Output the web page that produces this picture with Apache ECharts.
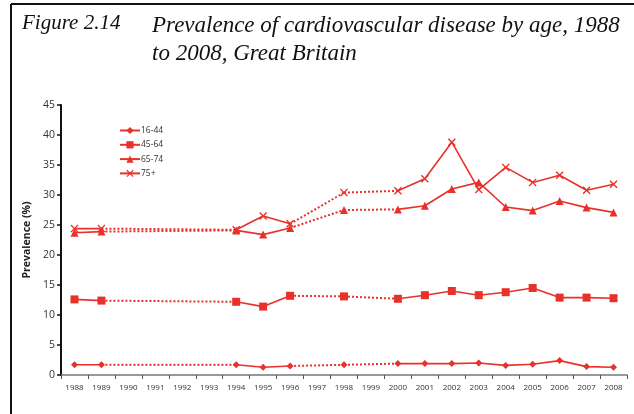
<!DOCTYPE html>
<html><head><meta charset="utf-8">
<script src="https://cdn.jsdelivr.net/npm/echarts@6/dist/echarts.min.js"></script>
<style>html,body{margin:0;padding:0;background:#fff}#c{width:634px;height:414px}</style>
</head><body><div id="c"></div>
<script>
const years = ['1988','1989','1990','1991','1992','1993','1994','1995','1996','1997','1998','1999','2000','2001','2002','2003','2004','2005','2006','2007','2008'];
const seriesNames = ['16-44','45-64','65-74','75+'];
const age16_44 = [1.7,1.7,null,null,null,null,1.7,1.3,1.5,null,1.7,null,1.9,1.9,1.9,2.0,1.6,1.8,2.4,1.4,1.3];
const age45_64 = [12.6,12.4,null,null,null,null,12.2,11.4,13.2,null,13.1,null,12.7,13.3,14.0,13.3,13.8,14.5,12.9,12.9,12.8];
const age65_74 = [23.7,23.9,null,null,null,null,24.1,23.4,24.5,null,27.5,null,27.6,28.2,31.0,32.1,28.0,27.4,29.0,27.9,27.1];
const age75plus = [24.4,24.4,null,null,null,null,24.2,26.5,25.2,null,30.4,null,30.7,32.7,38.8,30.9,34.6,32.1,33.3,30.8,31.8];
const yTicks = [0,5,10,15,20,25,30,35,40,45];

const RED = '#e8312a';
const xPath = 'path://M0,1.2L1.2,0L5,3.8L8.8,0L10,1.2L6.2,5L10,8.8L8.8,10L5,6.2L1.2,10L0,8.8L3.8,5Z';
const symbols = ['diamond','rect','triangle',xPath];
const sizes = [7,8,8,8];
const allData = [age16_44, age45_64, age65_74, age75plus];

const series = [];
allData.forEach((d, k) => {
  series.push({
    name: seriesNames[k], type: 'line', data: d, connectNulls: false,
    symbol: symbols[k], symbolSize: sizes[k], showAllSymbol: true,
    lineStyle: {color: RED, width: 1.6}, itemStyle: {color: RED},
    z: 3
  });
  // dotted connectors across gaps
  let prev = -1;
  d.forEach((v, i) => {
    if (v === null) return;
    if (prev >= 0 && i - prev > 1) {
      const seg = d.map((_, j) => (j === prev || j === i) ? d[j] : null);
      series.push({
        name: seriesNames[k] + ' gap', type: 'line', data: seg, connectNulls: true,
        symbol: 'none', lineStyle: {color: RED, width: 2, type: 'dotted'}, z: 2, silent: true
      });
    }
    prev = i;
  });
});

const chart = echarts.init(document.getElementById('c'));
chart.setOption({
  animation: false,
  backgroundColor: '#fff',
  grid: {left: 61, right: 7, top: 105, bottom: 39, containLabel: false},
  legend: {
    data: seriesNames, orient: 'vertical', left: 114, top: 121,
    itemWidth: 20, itemHeight: 9, itemGap: 5.3,
    textStyle: {fontSize: 8.5, color: '#333', fontFamily: 'Open Sans', padding: [0,0,0,-4]}
  },
  xAxis: {
    type: 'category', data: years, boundaryGap: true,
    axisLine: {lineStyle: {color: '#777', width: 1.5}},
    axisTick: {show: true, length: 4, lineStyle: {color: '#555'}},
    axisLabel: {fontSize: 8, color: '#333', margin: 9, fontFamily: 'Open Sans', interval: 0}
  },
  yAxis: {
    type: 'value', min: yTicks[0], max: yTicks[yTicks.length-1], interval: 5,
    name: 'Prevalence (%)', nameLocation: 'middle', nameGap: 22,
    nameTextStyle: {fontSize: 10.5, fontWeight: 'bold', color: '#222', fontFamily: 'Open Sans'},
    axisLine: {show: true, lineStyle: {color: '#111', width: 2}},
    axisTick: {show: true, length: 4, lineStyle: {color: '#111', width: 1.5}},
    axisLabel: {fontSize: 10.5, color: '#333', margin: 6, fontFamily: 'Open Sans'},
    splitLine: {show: false}
  },
  graphic: [
    {type: 'line', shape: {x1: 11, y1: 4, x2: 634, y2: 4}, style: {stroke: '#111', lineWidth: 2}},
    {type: 'line', shape: {x1: 11, y1: 4, x2: 11, y2: 414}, style: {stroke: '#111', lineWidth: 2}},
    {type: 'text', left: 22, top: 13, style: {text: 'Figure 2.14', font: 'italic 21px "Liberation Serif"', fill: '#111'}},
    {type: 'text', left: 152, top: 12, style: {text: 'Prevalence of cardiovascular disease by age, 1988\nto 2008, Great Britain', font: 'italic 23px "Liberation Serif"', fill: '#111', lineHeight: 28}}
  ],
  series: series
});
</script></body></html>
